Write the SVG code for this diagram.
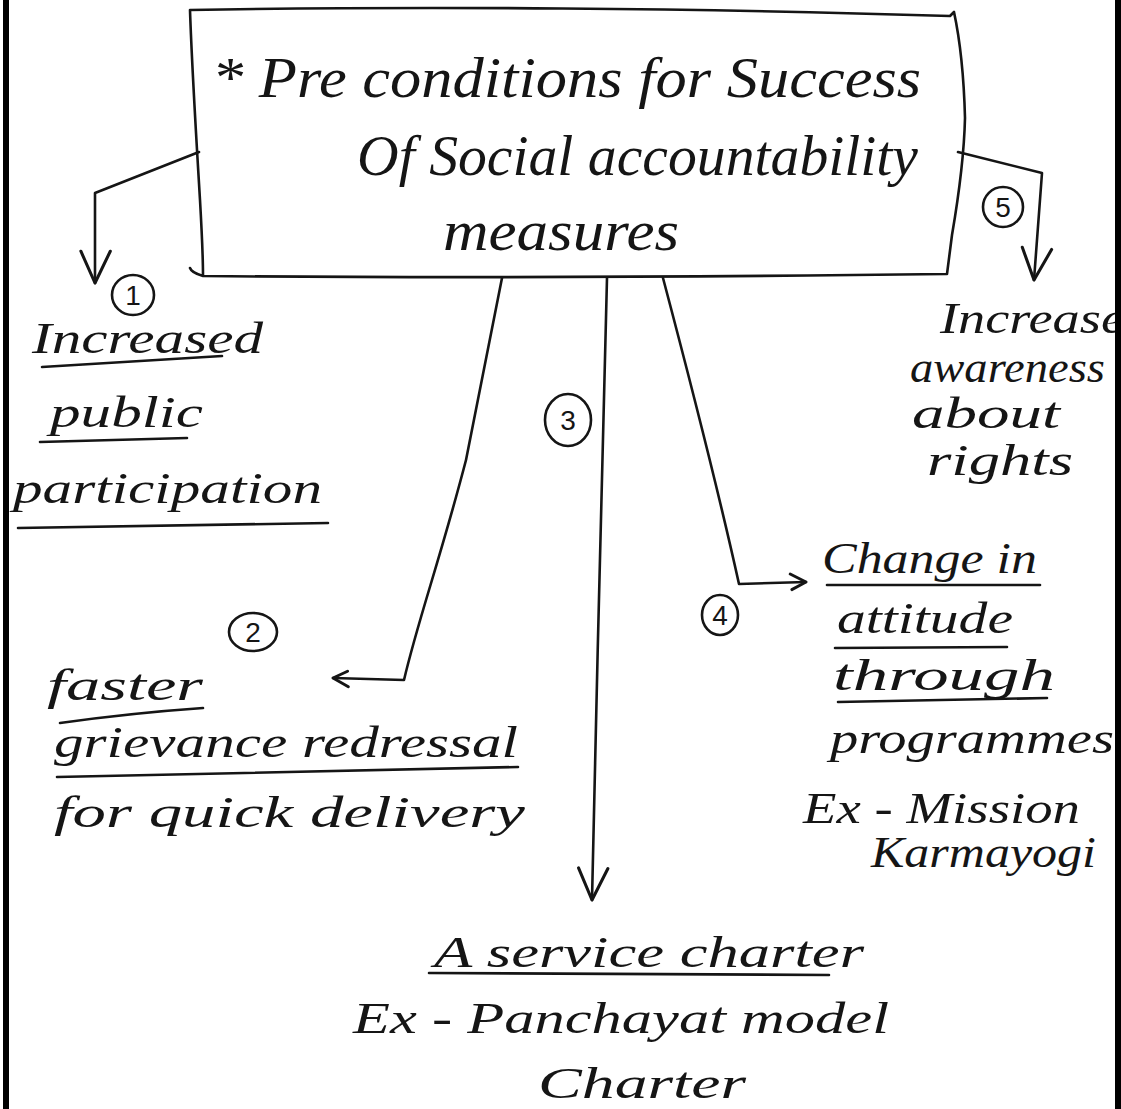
<svg xmlns="http://www.w3.org/2000/svg" width="1121" height="1109" viewBox="0 0 1121 1109">
  <style>
    .ink { fill: none; stroke: #151515; stroke-width: 2.6; stroke-linecap: round; stroke-linejoin: round; }
    .hand { font-family: "Liberation Serif", "DejaVu Serif", serif; font-style: italic; fill: #151515; }
    .big { font-size: 56px; }
    .lbl { font-size: 44px; }
    .num { font-family: "Liberation Sans", "DejaVu Sans", sans-serif; font-size: 28px; fill: #151515; text-anchor: middle; }
    .frame { stroke: #000; stroke-width: 6; }
  </style>
  <defs>
    <marker id="vee" markerUnits="userSpaceOnUse" markerWidth="40" markerHeight="40" viewBox="-30 -16 34 32" refX="0" refY="0" orient="auto">
      <path d="M-27,-13 L0,0 L-27,12" fill="none" stroke="#151515" stroke-width="2.6" stroke-linecap="round" stroke-linejoin="round"/>
    </marker>
    <marker id="vee-sm" markerUnits="userSpaceOnUse" markerWidth="24" markerHeight="24" viewBox="-16 -10 20 20" refX="0" refY="0" orient="auto">
      <path d="M-13,-7 L0,0 L-12,6" fill="none" stroke="#151515" stroke-width="2.4" stroke-linecap="round" stroke-linejoin="round"/>
    </marker>
  </defs>

  <rect x="0" y="0" width="1121" height="1109" fill="#ffffff"/>

  <!-- page edges -->
  <line class="frame" x1="6" y1="0" x2="6" y2="1109"/>

  <!-- central title box -->
  <g id="node-root">
    <path class="ink" d="M190,10 C420,6 700,8 950,16 L954,12 C960,40 964,80 965,118 C964,160 958,200 952,235 L947,274 C700,277 420,278 203,276 C196,274 191,271 190,268 M190,10 C192,70 197,150 200,200 C202,235 203,255 203,276"/>
    <text class="hand big" x="212" y="97" textLength="709" lengthAdjust="spacingAndGlyphs">* Pre conditions for Success</text>
    <text class="hand big" x="357" y="175" textLength="561" lengthAdjust="spacingAndGlyphs">Of Social accountability</text>
    <text class="hand big" x="443" y="250" textLength="236" lengthAdjust="spacingAndGlyphs">measures</text>
  </g>

  <!-- connectors from the box -->
  <g id="connectors">
    <path class="ink" d="M199,152 L95,193 L95,283" marker-end="url(#vee)"/>
    <path class="ink" d="M958,152 L1042,173 L1034,280" marker-end="url(#vee)"/>
    <path class="ink" d="M502,278 C490,340 478,400 466,460 C440,560 418,620 404,680 L333,678" marker-end="url(#vee-sm)"/>
    <path class="ink" d="M607,278 C603,450 596,700 592,900" marker-end="url(#vee)"/>
    <path class="ink" d="M663,278 C690,380 716,480 739,584 L806,582" marker-end="url(#vee-sm)"/>
  </g>

  <!-- 1: public participation -->
  <g id="node-1">
    <ellipse class="ink" cx="133" cy="295" rx="21" ry="20"/>
    <text class="num" x="133" y="305">1</text>
    <text class="hand lbl" x="32" y="353" textLength="231" lengthAdjust="spacingAndGlyphs">Increased</text>
    <path class="ink" d="M42,367 L222,356"/>
    <text class="hand lbl" x="50" y="427" textLength="153" lengthAdjust="spacingAndGlyphs">public</text>
    <path class="ink" d="M40,442 L187,438"/>
    <text class="hand lbl" x="13" y="503" textLength="309" lengthAdjust="spacingAndGlyphs">participation</text>
    <path class="ink" d="M18,528 L328,523"/>
  </g>

  <!-- 2: grievance redressal -->
  <g id="node-2">
    <ellipse class="ink" cx="253" cy="632" rx="24" ry="19"/>
    <text class="num" x="253" y="642">2</text>
    <text class="hand lbl" x="47" y="700" textLength="156" lengthAdjust="spacingAndGlyphs">faster</text>
    <path class="ink" d="M60,723 C110,716 160,711 203,708"/>
    <text class="hand lbl" x="54" y="757" textLength="464" lengthAdjust="spacingAndGlyphs">grievance redressal</text>
    <path class="ink" d="M57,777 L518,767"/>
    <text class="hand lbl" x="54" y="827" textLength="471" lengthAdjust="spacingAndGlyphs">for quick delivery</text>
  </g>

  <!-- 3: service charter -->
  <g id="node-3">
    <ellipse class="ink" cx="568" cy="420" rx="23" ry="26"/>
    <text class="num" x="568" y="430">3</text>
    <text class="hand lbl" x="434" y="967" textLength="430" lengthAdjust="spacingAndGlyphs">A service charter</text>
    <path class="ink" d="M429,973 L829,975"/>
    <text class="hand lbl" x="353" y="1033" textLength="536" lengthAdjust="spacingAndGlyphs">Ex - Panchayat model</text>
    <text class="hand lbl" x="538" y="1098" textLength="208" lengthAdjust="spacingAndGlyphs">Charter</text>
  </g>

  <!-- 4: attitude change -->
  <g id="node-4">
    <ellipse class="ink" cx="720" cy="615" rx="18" ry="20"/>
    <text class="num" x="720" y="625">4</text>
    <text class="hand lbl" x="822" y="573" textLength="215" lengthAdjust="spacingAndGlyphs">Change in</text>
    <path class="ink" d="M827,585 L1040,585"/>
    <text class="hand lbl" x="837" y="633" textLength="176" lengthAdjust="spacingAndGlyphs">attitude</text>
    <path class="ink" d="M835,648 L1007,647"/>
    <text class="hand lbl" x="833" y="690" textLength="222" lengthAdjust="spacingAndGlyphs">through</text>
    <path class="ink" d="M838,702 L1047,698"/>
    <text class="hand lbl" x="830" y="753" textLength="284" lengthAdjust="spacingAndGlyphs">programmes</text>
    <text class="hand lbl" x="803" y="823" textLength="277" lengthAdjust="spacingAndGlyphs">Ex - Mission</text>
    <text class="hand lbl" x="871" y="867" textLength="225" lengthAdjust="spacingAndGlyphs">Karmayogi</text>
  </g>

  <!-- 5: awareness about rights -->
  <g id="node-5">
    <ellipse class="ink" cx="1003" cy="207" rx="20" ry="20"/>
    <text class="num" x="1003" y="217">5</text>
    <text class="hand lbl" x="940" y="333" textLength="185" lengthAdjust="spacingAndGlyphs">Increase</text>
    <text class="hand lbl" x="910" y="382" textLength="195" lengthAdjust="spacingAndGlyphs">awareness</text>
    <text class="hand lbl" x="912" y="428" textLength="148" lengthAdjust="spacingAndGlyphs">about</text>
    <text class="hand lbl" x="927" y="475" textLength="146" lengthAdjust="spacingAndGlyphs">rights</text>
  </g>

  <!-- right page edge drawn last so it sits over the clipped word -->
  <line class="frame" x1="1118" y1="0" x2="1118" y2="1109"/>
</svg>
